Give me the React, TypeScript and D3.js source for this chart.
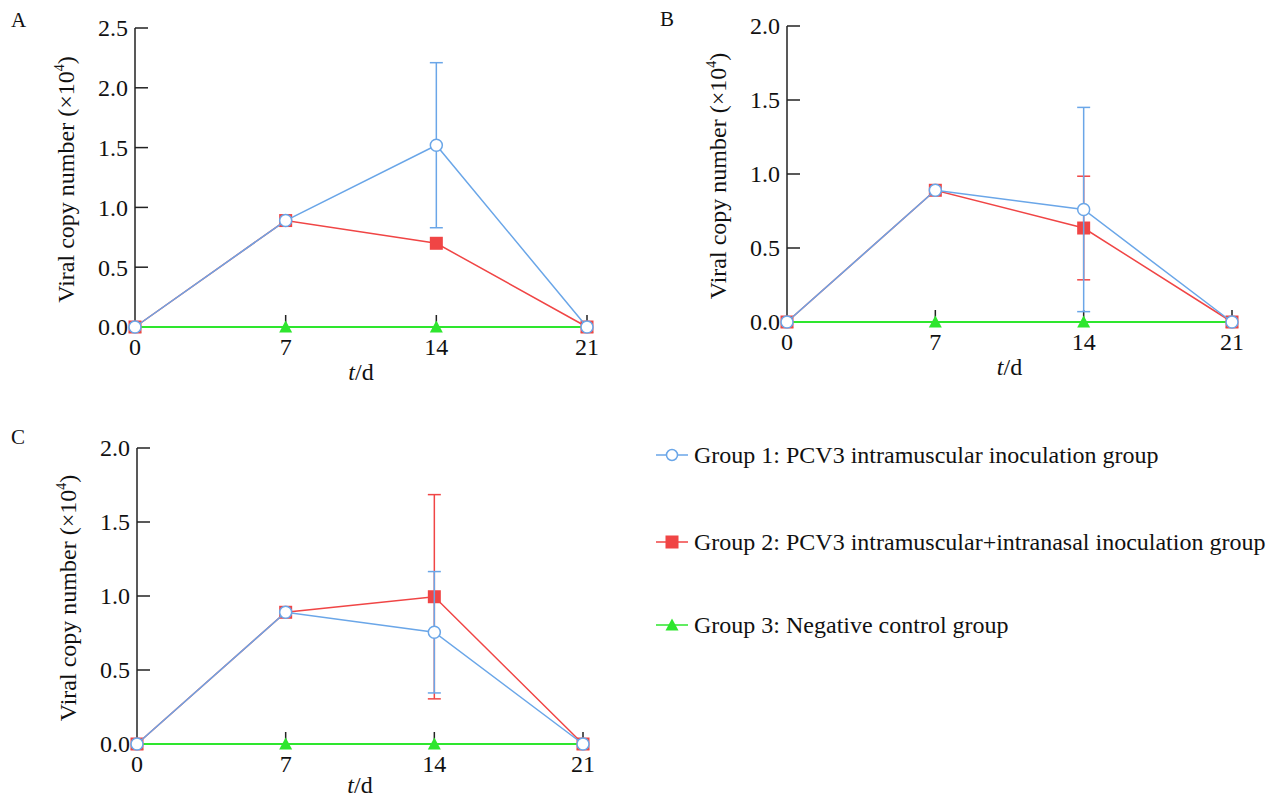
import React from 'react';
import * as d3 from 'd3';

const days = [0, 7, 14, 21];
const dayTicks = ['0', '7', '14', '21'];

// panel A
const aGroup1 = [0, 0.89, 1.52, 0];
const aGroup1Err = [0, 0, 0.69, 0];
const aGroup2 = [0, 0.89, 0.7, 0];
const aGroup2Err = [0, 0, 0, 0];
const aGroup3 = [0, 0, 0, 0];
const aYTicks = [0, 0.5, 1.0, 1.5, 2.0, 2.5];

// panel B
const bGroup1 = [0, 0.89, 0.76, 0];
const bGroup1Err = [0, 0, 0.69, 0];
const bGroup2 = [0, 0.89, 0.635, 0];
const bGroup2Err = [0, 0, 0.35, 0];
const bGroup3 = [0, 0, 0, 0];
const bYTicks = [0, 0.5, 1.0, 1.5, 2.0];

// panel C
const cGroup1 = [0, 0.89, 0.755, 0];
const cGroup1Err = [0, 0, 0.41, 0];
const cGroup2 = [0, 0.89, 0.995, 0];
const cGroup2Err = [0, 0, 0.69, 0];
const cGroup3 = [0, 0, 0, 0];
const cYTicks = [0, 0.5, 1.0, 1.5, 2.0];

const legendLabels = [
  'Group 1: PCV3 intramuscular inoculation group',
  'Group 2: PCV3 intramuscular+intranasal inoculation group',
  'Group 3: Negative control group',
];

const BLUE = '#6aa6e8';
const RED = '#f04545';
const GREEN = '#2ee62e';
const FONT = '"Liberation Serif", "Times New Roman", serif';

type PanelProps = {
  letter: string;
  letterX: number;
  letterY: number;
  x0: number;
  x1: number;
  yTop: number;
  yBottom: number;
  titleDy: number;
  yTicks: number[];
  g1: number[];
  g1Err: number[];
  g2: number[];
  g2Err: number[];
  g3: number[];
};

function Triangle({ x, y, fill }: { x: number; y: number; fill: string }) {
  return <path d={`M${x},${y - 6.5}L${x + 6.5},${y + 5.5}L${x - 6.5},${y + 5.5}Z`} fill={fill} />;
}

function ErrorBar({ x, lo, hi, color }: { x: number; lo: number; hi: number; color: string }) {
  return (
    <g stroke={color} strokeWidth={1.5}>
      <line x1={x} x2={x} y1={lo} y2={hi} />
      <line x1={x - 6.5} x2={x + 6.5} y1={lo} y2={lo} />
      <line x1={x - 6.5} x2={x + 6.5} y1={hi} y2={hi} />
    </g>
  );
}

function Panel(p: PanelProps) {
  const x = d3.scaleLinear().domain([0, 21]).range([p.x0, p.x1]);
  const y = d3.scaleLinear().domain([0, d3.max(p.yTicks)!]).range([p.yBottom, p.yTop]);
  const line = d3
    .line<number>()
    .x((_, i) => x(days[i]))
    .y((d) => y(d));

  return (
    <g fontFamily={FONT} fill="#111">
      <text x={p.letterX} y={p.letterY} fontSize={21}>
        {p.letter}
      </text>

      {/* y axis */}
      <line x1={p.x0} x2={p.x0} y1={p.yTop} y2={p.yBottom} stroke="#222" strokeWidth={1.5} />
      {p.yTicks.map((t) => (
        <g key={t}>
          <line x1={p.x0} x2={p.x0 + 13} y1={y(t)} y2={y(t)} stroke="#222" strokeWidth={1.5} />
          <text x={p.x0 - 7} y={y(t)} dy="0.35em" textAnchor="end" fontSize={24}>
            {t.toFixed(1)}
          </text>
        </g>
      ))}
      <text
        transform={`translate(${p.x0 - 61},${(p.yTop + p.yBottom) / 2 + 2}) rotate(-90)`}
        textAnchor="middle"
        fontSize={24}
      >
        Viral copy number (×10
        <tspan fontSize={14} dy={-10}>
          4
        </tspan>
        <tspan dy={10}>)</tspan>
      </text>

      {/* x axis */}
      <line x1={p.x0} x2={p.x1} y1={p.yBottom} y2={p.yBottom} stroke="#222" strokeWidth={1.5} />
      {days.map((d, i) => (
        <g key={d}>
          {i > 0 && <line x1={x(d)} x2={x(d)} y1={p.yBottom} y2={p.yBottom - 12} stroke="#222" strokeWidth={1.5} />}
          <text x={x(d)} y={p.yBottom + 20} dy="0.35em" textAnchor="middle" fontSize={24}>
            {dayTicks[i]}
          </text>
        </g>
      ))}
      <text x={(p.x0 + p.x1) / 2} y={p.yBottom + p.titleDy} dy="0.35em" textAnchor="middle" fontSize={24}>
        <tspan fontStyle="italic">t</tspan>/d
      </text>

      {/* group 3 */}
      <path d={line(p.g3)!} fill="none" stroke={GREEN} strokeWidth={2} />
      {p.g3.map((v, i) => (
        <Triangle key={i} x={x(days[i])} y={y(v)} fill={GREEN} />
      ))}

      {/* group 2 */}
      <path d={line(p.g2)!} fill="none" stroke={RED} strokeWidth={1.5} />
      {p.g2.map((v, i) =>
        p.g2Err[i] > 0 ? (
          <ErrorBar key={i} x={x(days[i])} lo={y(v - p.g2Err[i])} hi={y(v + p.g2Err[i])} color={RED} />
        ) : null
      )}
      {p.g2.map((v, i) => (
        <rect key={i} x={x(days[i]) - 6.5} y={y(v) - 6.5} width={13} height={13} fill={RED} />
      ))}

      {/* group 1 */}
      <path d={line(p.g1)!} fill="none" stroke={BLUE} strokeWidth={1.5} />
      {p.g1.map((v, i) =>
        p.g1Err[i] > 0 ? (
          <ErrorBar key={i} x={x(days[i])} lo={y(v - p.g1Err[i])} hi={y(v + p.g1Err[i])} color={BLUE} />
        ) : null
      )}
      {p.g1.map((v, i) => (
        <circle key={i} cx={x(days[i])} cy={y(v)} r={6} fill="#fff" stroke={BLUE} strokeWidth={1.5} />
      ))}
    </g>
  );
}

function Legend() {
  const ys = [455, 542, 625];
  return (
    <g fontFamily={FONT}>
      {legendLabels.map((label, i) => (
        <g key={label}>
          <line
            x1={656}
            x2={688}
            y1={ys[i]}
            y2={ys[i]}
            stroke={[BLUE, RED, GREEN][i]}
            strokeWidth={1.5}
          />
          {i === 0 && <circle cx={672} cy={ys[i]} r={5.5} fill="#fff" stroke={BLUE} strokeWidth={1.5} />}
          {i === 1 && <rect x={665.5} y={ys[i] - 6.5} width={13} height={13} fill={RED} />}
          {i === 2 && <Triangle x={672} y={ys[i]} fill={GREEN} />}
          <text x={694} y={ys[i]} dy="0.35em" fontSize={24} fill="#111">
            {label}
          </text>
        </g>
      ))}
    </g>
  );
}

export default function App() {
  return (
    <svg
      width={1276}
      height={800}
      style={{ position: 'absolute', left: 0, top: 0, background: '#fff' }}
    >
      <Panel
        letter="A"
        letterX={11}
        letterY={27}
        x0={135}
        x1={587}
        yTop={28}
        yBottom={327}
        titleDy={45}
        yTicks={aYTicks}
        g1={aGroup1}
        g1Err={aGroup1Err}
        g2={aGroup2}
        g2Err={aGroup2Err}
        g3={aGroup3}
      />
      <Panel
        letter="B"
        letterX={660}
        letterY={26}
        x0={787}
        x1={1232}
        yTop={26}
        yBottom={322}
        titleDy={45}
        yTicks={bYTicks}
        g1={bGroup1}
        g1Err={bGroup1Err}
        g2={bGroup2}
        g2Err={bGroup2Err}
        g3={bGroup3}
      />
      <Panel
        letter="C"
        letterX={11}
        letterY={444}
        x0={137}
        x1={583}
        yTop={448}
        yBottom={744}
        titleDy={41}
        yTicks={cYTicks}
        g1={cGroup1}
        g1Err={cGroup1Err}
        g2={cGroup2}
        g2Err={cGroup2Err}
        g3={cGroup3}
      />
      <Legend />
    </svg>
  );
}
